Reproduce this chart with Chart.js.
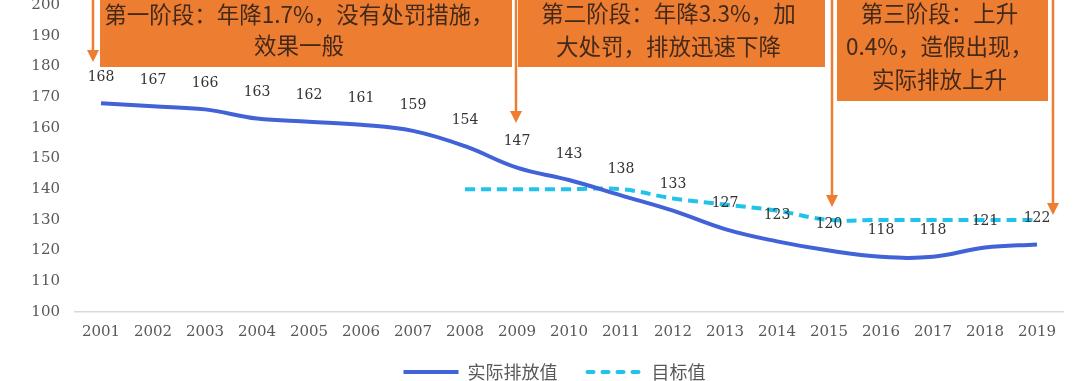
<!DOCTYPE html>
<html>
<head>
<meta charset="utf-8">
<script src="https://cdn.jsdelivr.net/npm/chart.js@4"></script>
<style>
  html, body { margin: 0; padding: 0; background: #fff; }
  #wrap { width: 1080px; height: 381px; position: relative; }
</style>
</head>
<body>
<div id="wrap"><canvas id="myChart"></canvas></div>
<script>
// 数据
const years = ['2001', '2002', '2003', '2004', '2005', '2006', '2007', '2008', '2009', '2010',
               '2011', '2012', '2013', '2014', '2015', '2016', '2017', '2018', '2019'];
const actual = [168, 167, 166, 163, 162, 161, 159, 154, 147, 143, 138, 133, 127, 123, 120, 118, 118, 121, 122];
const target = [null, null, null, null, null, null, null, 140, 140, 140, 140, 137, 135, 133, 130, 130, 130, 130, 130];
const seriesNames = ['实际排放值', '目标值'];

// 阶段说明框和箭头
const notes = [
    { x: 100, y: -10, w: 412, h: 77, lines: ['第一阶段：年降1.7%，没有处罚措施，', '效果一般'], ty: [14, 45], dx: -7 },
    { x: 518, y: -10, w: 307, h: 77, lines: ['第二阶段：年降3.3%，加', '大处罚，排放迅速下降'], ty: [13, 46], dx: -3 },
    { x: 837, y: -10, w: 211, h: 111, lines: ['第三阶段：上升', '0.4%，造假出现，', '实际排放上升'], ty: [13, 46, 79], dx: -3 }
];
const arrows = [
    { x: 93, tip: 62 },
    { x: 516, tip: 123 },
    { x: 832, tip: 207 },
    { x: 1053, tip: 215 }
];

const orange = '#ED7D31';
const serif = '"DejaVu Serif", "Liberation Serif", serif';
const cjk = '"Noto Sans CJK SC", "Noto Sans", sans-serif';

Chart.defaults.font.family = cjk;

const notePlugin = {
    id: 'notes',
    afterLayout(chart) {
        // 图例稍微偏右、偏上
        chart.legend.left += 23;
        chart.legend.right += 23;
        chart.legend.top -= 9;
        chart.legend.bottom -= 9;
    },
    afterDraw(chart) {
        const ctx = chart.ctx;
        ctx.save();
        notes.forEach(n => {
            ctx.fillStyle = orange;
            ctx.fillRect(n.x, n.y, n.w, n.h);
            ctx.fillStyle = '#43291a';
            ctx.font = '22.5px ' + cjk;
            ctx.textAlign = 'center';
            ctx.textBaseline = 'middle';
            n.lines.forEach((t, i) => ctx.fillText(t, n.x + n.w / 2 + n.dx, n.ty[i]));
        });
        arrows.forEach(a => {
            ctx.strokeStyle = orange;
            ctx.lineWidth = 2.5;
            ctx.beginPath();
            ctx.moveTo(a.x, 0);
            ctx.lineTo(a.x, a.tip - 8);
            ctx.stroke();
            ctx.fillStyle = orange;
            ctx.beginPath();
            ctx.moveTo(a.x - 6, a.tip - 12);
            ctx.lineTo(a.x + 6, a.tip - 12);
            ctx.lineTo(a.x, a.tip);
            ctx.closePath();
            ctx.fill();
        });
        ctx.restore();
    }
};

const labelPlugin = {
    id: 'valueLabels',
    afterDatasetsDraw(chart) {
        const ctx = chart.ctx;
        const meta = chart.getDatasetMeta(0);
        ctx.save();
        ctx.font = '14px ' + serif;
        ctx.fillStyle = '#333333';
        ctx.textAlign = 'center';
        ctx.textBaseline = 'middle';
        meta.data.forEach((pt, i) => {
            ctx.fillText(String(actual[i]), pt.x, pt.y - 26);
        });
        ctx.restore();
    }
};

new Chart(document.getElementById('myChart'), {
    type: 'line',
    data: {
        labels: years,
        datasets: [{
            label: seriesNames[0],
            data: actual,
            borderColor: '#4262D8',
            backgroundColor: '#4262D8',
            borderWidth: 4,
            pointRadius: 0,
            tension: 0.4
        }, {
            label: seriesNames[1],
            data: target,
            borderColor: '#22C3EB',
            backgroundColor: '#22C3EB',
            borderWidth: 4,
            borderDash: [10, 6],
            pointRadius: 0,
            tension: 0.4
        }]
    },
    options: {
        responsive: true,
        maintainAspectRatio: false,
        animation: false,
        layout: { padding: { top: 5, right: 17, left: 0, bottom: -19 } },
        scales: {
            x: {
                offset: true,
                grid: { display: false, drawTicks: false },
                border: { display: true, color: '#d9d9d9', width: 1.5 },
                ticks: { font: { size: 15, family: serif }, color: '#595959', padding: 11, maxRotation: 0 },
                afterFit(scale) { scale.height = 30; }
            },
            y: {
                min: 100,
                max: 200,
                grid: { display: false, drawTicks: false },
                border: { display: false },
                ticks: { stepSize: 10, font: { size: 15, family: serif }, color: '#595959', padding: 15 },
                afterFit(scale) {
                    scale.width = 75;
                    scale.paddingTop = 0;
                    scale.paddingBottom = 0;
                }
            }
        },
        plugins: {
            legend: {
                position: 'bottom',
                labels: {
                    usePointStyle: true,
                    pointStyle: 'line',
                    pointStyleWidth: 55,
                    boxHeight: 17,
                    padding: 30,
                    color: '#595959',
                    font: { size: 18, family: cjk },
                    generateLabels(chart) {
                        return Chart.defaults.plugins.legend.labels.generateLabels(chart).map(item => {
                            const ds = chart.data.datasets[item.datasetIndex];
                            item.lineDash = ds.borderDash ? [6, 9] : [];
                            item.lineWidth = 4;
                            item.lineCap = ds.borderDash ? 'round' : 'butt';
                            return item;
                        });
                    }
                }
            },
            tooltip: { enabled: false }
        }
    },
    plugins: [labelPlugin, notePlugin]
});
</script>
</body>
</html>
